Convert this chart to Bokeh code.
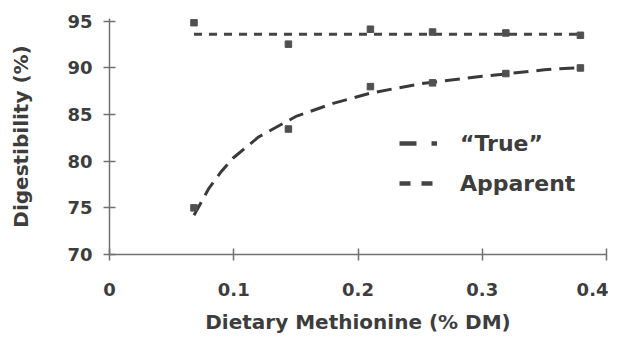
from bokeh.plotting import figure
from bokeh.models import Range1d, FixedTicker, Legend, LegendItem, ColumnDataSource
from bokeh.embed import file_html
from bokeh.resources import INLINE

# Measured points
x_pts = [0.068, 0.144, 0.210, 0.260, 0.319, 0.379]
apparent_pts = [94.85, 92.55, 94.15, 93.85, 93.75, 93.5]
true_pts = [75.0, 83.45, 88.0, 88.4, 89.4, 90.0]

# Fitted lines
flat_x = [0.068, 0.380]
flat_y = [93.6, 93.6]
curve_x = [0.068, 0.08, 0.09, 0.10, 0.12, 0.15, 0.18, 0.21, 0.25, 0.30, 0.35, 0.38]
curve_y = [74.2, 77.1, 78.9, 80.4, 82.6, 84.8, 86.2, 87.3, 88.3, 89.1, 89.8, 90.05]

x_ticks = [0, 0.1, 0.2, 0.3, 0.4]
x_tick_labels = ["0", "0.1", "0.2", "0.3", "0.4"]
y_ticks = [70, 75, 80, 85, 90, 95]

FONT = "DejaVu Sans"
TXT = "#3d3d3d"
AX = "#707070"

p = figure(width=608, height=337, output_backend="svg", toolbar_location=None,
           x_range=Range1d(0, 0.4), y_range=Range1d(70, 95.3),
           min_border_left=109, min_border_right=2, min_border_top=18, min_border_bottom=83)
p.outline_line_color = None
p.grid.visible = False
p.background_fill_color = "white"

for ax in (p.xaxis[0], p.yaxis[0]):
    ax.axis_line_color = AX
    ax.axis_line_width = 1.5
    ax.major_tick_line_color = AX
    ax.major_tick_line_width = 1.5
    ax.major_tick_in = 6
    ax.major_tick_out = 6
    ax.minor_tick_line_color = None
    ax.major_label_text_font = FONT
    ax.major_label_text_font_style = "bold"
    ax.major_label_text_font_size = "18px"
    ax.major_label_text_color = TXT
    ax.axis_label_text_font = FONT
    ax.axis_label_text_font_style = "bold"
    ax.axis_label_text_font_size = "20px"
    ax.axis_label_text_color = TXT

p.xaxis.ticker = FixedTicker(ticks=x_ticks)
p.xaxis.major_label_overrides = {t: l for t, l in zip(x_ticks, x_tick_labels)}
p.yaxis.ticker = FixedTicker(ticks=y_ticks)
p.xaxis.major_label_standoff = 22
p.yaxis.major_label_standoff = 11
p.xaxis.axis_label = "Dietary Methionine (% DM)"
p.yaxis.axis_label = "Digestibility (%)"
p.xaxis.axis_label_standoff = 11
p.yaxis.axis_label_standoff = 31

p.line(flat_x, flat_y, line_color="#444444", line_width=3, line_dash="8 7")
p.line(curve_x, curve_y, line_color="#3a3a3a", line_width=3, line_dash="15 8")
p.scatter(x_pts, apparent_pts, marker="square", size=6.5, color="#505050")
p.scatter(x_pts, true_pts, marker="square", size=6.5, color="#505050")

nan = float("nan")
dummy = ColumnDataSource(data=dict(x=[nan, nan], y=[nan, nan]))
r_true = p.line("x", "y", source=dummy, line_color="#444444", line_width=4.5, line_dash="17 15 6 40")
r_app = p.line("x", "y", source=dummy, line_color="#444444", line_width=4.5, line_dash="11 11")

legend = Legend(items=[LegendItem(label="\u201cTrue\u201d", renderers=[r_true]),
                       LegendItem(label="Apparent", renderers=[r_app])],
                location=(290, 58), padding=0, margin=0, spacing=14,
                label_height=26, glyph_height=26, glyph_width=38, label_standoff=23,
                border_line_color=None, background_fill_alpha=0,
                label_text_font=FONT, label_text_font_style="bold",
                label_text_font_size="22px", label_text_color=TXT)
p.add_layout(legend, "center")

open("out.html", "w").write(file_html(p, INLINE))
